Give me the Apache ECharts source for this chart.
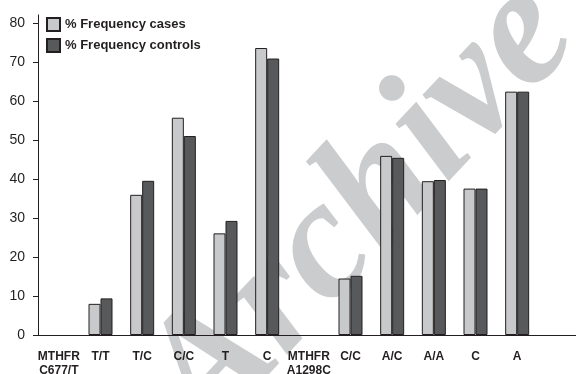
<!DOCTYPE html>
<html><head><meta charset="utf-8">
<script src="https://cdn.jsdelivr.net/npm/echarts@6/dist/echarts.min.js"></script>
<style>html,body{margin:0;padding:0;background:#fff}#c{width:576px;height:374px}</style>
</head><body><div id="c"></div>
<script>
var categories = ['MTHFR\nC677/T','T/T','T/C','C/C','T','C','MTHFR\nA1298C','C/C','A/C','A/A','C','A'];
var casesValues = [null, 8, 36, 55.8, 26.1, 73.7, null, 14.5, 46.0, 39.5, 37.6, 62.5];
var controlsValues = [null, 9.4, 39.6, 51.1, 29.3, 71.0, null, 15.2, 45.5, 39.8, 37.6, 62.5];
var yTicks = [0, 80, 10];
var seriesNames = ['% Frequency cases', '% Frequency controls'];

var chart = echarts.init(document.getElementById('c'), null, {renderer:'canvas'});
var font = 'Liberation Sans, Arial, sans-serif';
chart.setOption({
  animation: false,
  backgroundColor: '#fff',
  grid: {left: 38, right: 38, top: 23.5, bottom: 39, containLabel: false, outerBoundsMode: 'none'},
  legend: {
    orient: 'vertical', left: 41, top: 12, itemWidth: 13, itemHeight: 13, itemGap: 6,
    textStyle: {fontFamily: font, fontWeight: 'bold', fontSize: 13, color: '#231f20'},
    data: seriesNames.map(function(n){return {name:n, icon:'rect'};})
  },
  xAxis: {
    type: 'category', data: categories,
    axisLine: {lineStyle: {color: '#231f20', width: 1}},
    axisTick: {show: false},
    axisLabel: {fontFamily: font, fontWeight: 'bold', fontSize: 12, color: '#231f20', margin: 15, lineHeight: 14, interval: 0}
  },
  yAxis: {
    type: 'value', min: yTicks[0], max: yTicks[1], interval: yTicks[2],
    splitLine: {show: false},
    axisLine: {show: true, lineStyle: {color: '#231f20', width: 1}},
    axisTick: {show: true, inside: false, length: 5, lineStyle: {color: '#231f20'}},
    axisLabel: {fontFamily: font, fontSize: 14, color: '#231f20', margin: 13}
  },
  series: [
    {name: seriesNames[0], type: 'bar', data: casesValues, barWidth: 12, barGap: '0%',
     itemStyle: {color: '#c8c9cb', borderColor: '#231f20', borderWidth: 1}},
    {name: seriesNames[1], type: 'bar', data: controlsValues, barWidth: 12, barGap: '0%',
     itemStyle: {color: '#58595b', borderColor: '#231f20', borderWidth: 1}}
  ]
});
var gridRect = chart.getModel().getComponent('grid').coordinateSystem.getRect();
var x0 = gridRect.x, yb = gridRect.y + gridRect.height, yt = gridRect.y, xr = gridRect.x + gridRect.width;
chart.setOption({graphic: [
  {type:'text', z:-10, silent:true, x: 362, y: 210, rotation: 0.82,
   style:{text:'Archive', font:'italic bold 170px "Liberation Serif", serif', fill:'#cbcccd', align:'center', verticalAlign:'middle'}},
  {type:'line', silent:true, shape:{x1:xr, y1:yb+0.5, x2:576, y2:yb+0.5}, style:{stroke:'#231f20', lineWidth:1}},
  {type:'line', silent:true, shape:{x1:x0+0.5, y1:yt-9, x2:x0+0.5, y2:yt}, style:{stroke:'#231f20', lineWidth:1}}
]});
</script></body></html>
